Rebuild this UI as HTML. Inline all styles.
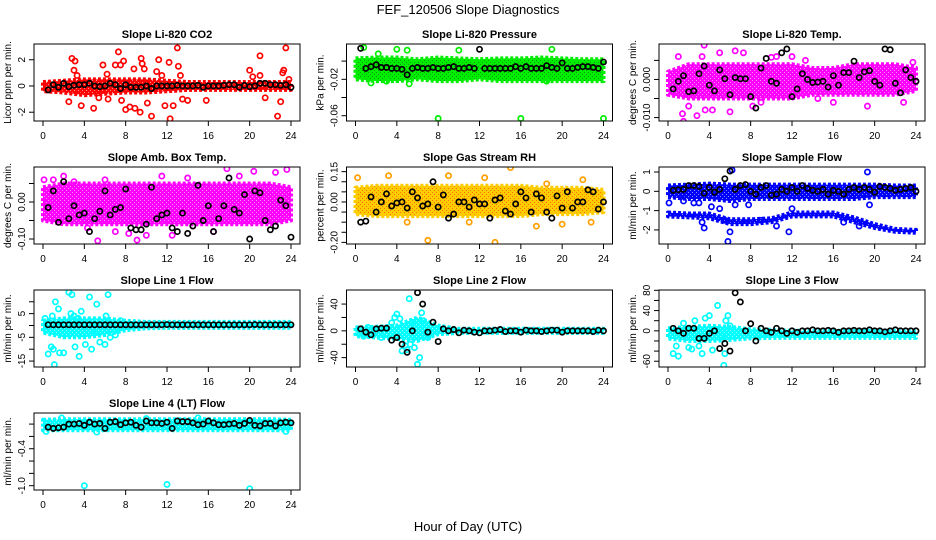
<!DOCTYPE html>
<html><head><meta charset="utf-8"><style>
html,body{margin:0;padding:0;background:#fff;}
svg{display:block;font-family:"Liberation Sans",sans-serif;}
</style></head><body>
<svg id="chart" width="936" height="540" viewBox="0 0 936 540">
<defs id="defs"></defs>
<text x="468" y="14" text-anchor="middle" font-size="13">FEF_120506  Slope Diagnostics</text>
<text x="468" y="531" text-anchor="middle" font-size="13">Hour of Day (UTC)</text>
</svg>
<script>
// ---- data (hours 0..24) ----
const bandHours = [0,2,4,6,8,10,12,14,16,18,20,22,24];
const xTicks = [0,4,8,12,16,20,24];

const co2BandLo = [-0.4,-0.5,-0.7,-0.6,-0.5,-0.5,-0.4,-0.3,-0.3,-0.3,-0.3,-0.3,-0.3];
const co2BandHi = [0.3,0.4,0.5,0.5,0.5,0.5,0.4,0.3,0.3,0.3,0.3,0.3,0.3];
const co2Pts = [[2.8,2.1],[3,1.2],[3.1,1.9],[3.3,0.8],[2.5,-1.2],[3.7,-1.5],[4.9,-1.7],[5.4,-0.9],[5.8,1.6],[6.2,0.9],[6.3,-1.0],[7,1.6],[7.3,2.6],[7.5,1.6],[7.8,1.9],[7.6,-1.1],[8,-1.8],[8.4,-1.6],[8.8,1.3],[8.9,-1.7],[9.5,2.1],[9.6,1.7],[9.8,1.3],[9.4,-2.0],[10.1,-1.3],[10.5,-2.3],[11,1.1],[11.2,2.0],[11.5,0.8],[11.8,-1.5],[12.2,1.8],[12.3,-2.5],[12.6,-1.5],[13,2.9],[13.1,1.5],[13.3,0.8],[13.5,-1.0],[14,-1.1],[15.8,-1.1],[20,1.2],[20.3,0.7],[21,2.3],[21.5,-0.9],[21,0.8],[22.7,-2.3],[23,-1.2],[23.2,1.0],[23.5,2.9],[23.3,1.2],[23.8,0.5]];
const co2Black = [-0.3,0.1,-0.1,0.2,-0.05,0.05,0.1,0.1,0.2,0,-0.05,0,0.2,0.1,-0.2,0.1,-0.1,-0.1,-0.1,0,-0.2,0,0,0,0,0.05,0,0,0,0.05,-0.1,0,0,0,0.05,0.1,0.1,-0.1,0.05,-0.05,0,0.2,0.2,0.1,0.1,0.05,0.1,-0.1];

const presBandLo = [-0.02,-0.022,-0.022,-0.02,-0.022,-0.022,-0.02,-0.022,-0.022,-0.022,-0.022,-0.022,-0.022];
const presBandHi = [0.003,0.004,0.004,0.002,0.004,0.003,0.002,0.003,0.003,0.004,0.003,0.002,0.002];
const presPts = [[8,-0.063],[16,-0.063],[24,-0.063],[5,0.012],[4,0.013],[0.8,0.015],[1.5,-0.024],[5.2,-0.025],[3,-0.022],[19,0.013],[10,0.012],[2.2,0.008],[18.5,-0.022]];
const presBlack = [0.014,-0.008,-0.006,-0.004,-0.007,-0.007,-0.008,-0.008,-0.009,-0.015,-0.008,-0.007,-0.008,-0.008,-0.007,-0.008,-0.008,-0.007,-0.006,-0.008,-0.008,-0.007,-0.008,0.013,-0.008,-0.008,-0.008,-0.008,-0.008,-0.008,-0.006,-0.008,-0.006,-0.008,-0.008,-0.008,-0.005,-0.007,-0.008,-0.002,-0.008,-0.008,-0.007,-0.006,-0.006,-0.007,-0.008,-0.001];

const tempBandLo = [-0.004,-0.005,-0.005,-0.005,-0.005,-0.005,-0.005,-0.004,-0.004,-0.004,-0.004,-0.004,-0.003];
const tempBandHi = [0.002,0.004,0.004,0.004,0.004,0.004,0.004,0.003,0.003,0.004,0.004,0.004,0.003];
const tempPts = [[1.5,-0.011],[1.4,-0.009],[2,-0.007],[2.8,-0.0095],[3.5,0.009],[3.6,-0.008],[4.3,-0.008],[6,-0.0085],[6.5,0.0075],[7.3,0.007],[8.2,-0.007],[10.5,0.006],[10,0.0058],[13.3,0.005],[19.3,-0.007],[22.8,-0.006],[23.7,0.0045],[3.3,0.006],[12,0.006],[16,-0.006],[1,0.006],[5,0.007],[9,-0.006],[14.5,-0.005]];
const tempBlack = [-0.0025,-0.0005,0.001,-0.0032,-0.003,0.0015,0.0035,-0.0015,-0.003,0.0025,0.0002,-0.004,0.0005,0.0002,0.0002,-0.0045,-0.0075,0.003,0.0055,-0.0005,-0.001,0.007,0.008,-0.0045,-0.0025,0.0015,0,-0.0008,-0.0007,-0.0005,-0.002,0.001,-0.0015,0.0018,0.0018,0.0048,0.0005,0.002,0.0023,-0.0005,-0.0015,0.008,0.0078,-0.001,-0.0035,0.0025,0.0005,-0.0005];

const ambBandLo = [-0.05,-0.06,-0.06,-0.06,-0.06,-0.06,-0.06,-0.06,-0.06,-0.06,-0.06,-0.06,-0.05];
const ambBandHi = [0.04,0.05,0.05,0.05,0.05,0.05,0.05,0.05,0.05,0.05,0.05,0.05,0.04];
const ambPts = [[5.3,-0.105],[9.1,-0.103],[17.8,0.09],[23.6,0.088],[20.4,0.083],[22.5,0.08],[0.1,0.06],[1,0.06],[4.3,-0.07],[16.5,-0.08],[12.5,-0.09],[10,-0.09],[7,-0.08],[2,0.07],[3,0.055],[6,0.06],[11.5,0.07],[14,0.065],[19,0.07],[8.3,-0.085]];
const ambBlack = [-0.015,0.03,-0.055,0.055,-0.045,-0.01,-0.035,-0.03,-0.08,-0.045,-0.025,0.03,-0.035,-0.02,-0.015,0.035,-0.07,-0.075,-0.075,-0.06,0.04,-0.045,-0.035,-0.03,-0.07,-0.08,-0.03,-0.085,-0.065,0.045,-0.05,-0.01,-0.08,-0.045,-0.01,0.065,-0.02,-0.03,0.02,-0.1,0.03,0.025,-0.05,-0.075,-0.065,0.005,-0.01,-0.095];

const rhBandLo = [-0.06,-0.07,-0.07,-0.07,-0.07,-0.07,-0.07,-0.07,-0.07,-0.06,-0.06,-0.06,-0.05];
const rhBandHi = [0.07,0.08,0.08,0.08,0.08,0.08,0.08,0.08,0.08,0.07,0.07,0.07,0.06];
const rhPts = [[0.2,0.12],[3.2,0.13],[7,-0.19],[13.5,-0.2],[15,0.17],[17.5,-0.12],[18.5,0.09],[22.8,-0.1],[11,-0.1],[9,0.13],[5,-0.1],[20,-0.11],[12.5,0.12],[22,0.11]];
const rhBlack = [-0.1,-0.095,0.025,-0.05,0,0.04,-0.02,-0.005,0,-0.03,0.05,0.02,-0.02,-0.01,0.1,-0.025,0.035,-0.08,-0.06,0.0,0.0,-0.025,0.01,-0.01,-0.01,-0.08,0.01,0.02,-0.045,-0.06,-0.01,0.05,0.02,-0.05,0.04,0.02,-0.05,-0.08,0.03,-0.03,0.05,-0.03,0.0,0.0,0.06,0.05,-0.035,0.0];

const flowBandLo = [-0.3,-0.4,-0.4,-0.5,-0.4,-0.4,-0.4,-0.4,-0.4,-0.4,-0.3,-0.3,-0.3];
const flowBandHi = [0.3,0.35,0.4,0.35,0.35,0.35,0.35,0.35,0.35,0.35,0.35,0.3,0.3];
const flowLowLo = [-1.3,-1.35,-1.4,-1.7,-1.7,-1.6,-1.3,-1.3,-1.3,-1.6,-1.9,-2.1,-2.15];
const flowLowHi = [-1.1,-1.15,-1.15,-1.45,-1.45,-1.4,-1.1,-1.1,-1.1,-1.35,-1.7,-1.95,-2.0];
const flowPts = [[5.8,-2.6],[6,-2.1],[6.2,1.1],[19.3,1],[3.5,-1.9],[11.7,-2.1],[2.5,-0.6],[3,-0.6],[0.1,-0.6],[5.5,-1.5],[4.2,-0.8],[5,-0.9],[6.5,-0.7],[1.5,-0.5],[7.8,-0.7],[19.5,-0.7],[12,-0.9],[3.3,-1.6],[9,-1.5],[10.5,-1.8],[17,-1.6],[18.5,-1.8]];
const flowBlack = [0.05,0.08,0.1,0.3,0.3,0.25,-0.1,0.2,-0.05,0.1,0.65,1.05,0.1,0.3,0.35,0.0,-0.15,0.2,0.3,-0.2,-0.15,0.1,0.0,0.2,0.0,0.3,0.15,0.05,0.0,0.1,-0.15,0.05,0.0,-0.15,0.1,0.2,0.1,0.2,0.1,-0.05,0.25,0.2,0.15,0.05,0.1,0.15,0.2,0.0];

const l1BandLo = [-3,-5,-5,-4,-2,-1.2,-1,-1,-1,-1,-1,-1,-1];
const l1BandHi = [2,3,3,3,2,1.5,1.5,1.5,1.5,1.5,1.5,1.5,1.5];
const l1Pts = [[0.2,3],[0.5,-12],[0.8,-9],[1,-10],[1.2,10],[1.1,-16.5],[0.9,4],[1.5,7],[1.6,-11.5],[2,-11.5],[2.5,14],[2.8,13],[3.1,-9],[3.5,-13],[3.7,6],[4.5,12],[4.1,-8],[4.7,-10],[5.2,9],[5.5,-7],[5,-3],[6,-8],[6.3,13],[6.1,4],[6.5,-5],[2.7,5],[3,4],[3.4,3],[7,-4],[7.5,2]];
const l1Black = [0.3,0.3,0.3,0.3,0.3,0.3,0.3,0.3,0.3,0.3,0.3,0.3,0.3,0.3,0.3,0.3,0.3,0.3,0.3,0.3,0.3,0.3,0.3,0.4,0.3,0.3,0.3,0.3,0.3,0.3,0.3,0.3,0.3,0.3,0.3,0.3,0.3,0.3,0.3,0.3,0.4,0.3,0.3,0.3,0.3,0.3,0.3,0.3];

const l2BandLo = [-8,-10,-12,-15,-5,-3,-3,-3,-3,-3,-3,-3,-3];
const l2BandHi = [5,6,8,20,8,3,3,3,3,3,3,3,3];
const l2Pts = [[0.8,-8],[1.2,5],[2.5,-10],[3.5,12],[3.8,20],[4,25],[4.3,18],[4.5,-30],[5,-28],[4.8,-22],[5.2,48],[5.3,-20],[5.7,-25],[6,-50],[6.2,-40],[6.4,27],[6.6,15],[5.5,13],[7,-10]];
const l2Black = [3,-2,-6,3,4,4,-14,-10,-20,-32,0,57,40,-2,13,-16,3,0,2,-3,1,0,-2,-3,0,0,1,2,-1,0,0,-2,1,0,0,-1,0,1,1,-2,0,0,0,0,0,-1,1,0];

const l3BandLo = [-15,-20,-20,-18,-15,-14,-14,-14,-14,-14,-14,-14,-14];
const l3BandHi = [5,8,10,8,3,2,0,0,0,0,0,0,0];
const l3Pts = [[0.5,-45],[1,-50],[0.8,-30],[1.5,15],[2,-33],[2.3,-36],[2.6,20],[3,-30],[3.3,-45],[3.6,25],[4,30],[4.3,-38],[4.8,50],[5.2,-10],[5.5,-45],[5.6,20],[5.8,30],[5.4,-68],[6,10]];
const l3Black = [5,0,-5,5,5,-15,-15,-5,0,-35,-25,-40,75,57,0,14,-20,5,0,-3,5,0,-5,0,-3,0,0,2,0,0,1,0,-3,0,0,1,0,0,2,0,0,-2,0,2,0,0,0,0];

const l4BandLo = [-0.1,-0.1,-0.1,-0.1,-0.1,-0.1,-0.1,-0.1,-0.1,-0.1,-0.1,-0.1,-0.1];
const l4BandHi = [0.07,0.08,0.08,0.08,0.08,0.08,0.08,0.08,0.08,0.08,0.08,0.08,0.07];
const l4Pts = [[4,-1.0],[12,-0.98],[20,-1.05],[0.3,-0.12],[5.2,-0.13],[23.5,-0.12],[1.8,0.1],[10,0.09],[15,0.1]];
const l4Black = [-0.05,-0.07,-0.06,-0.05,0,0,0.01,-0.02,0.03,0,0.01,-0.07,0.03,0.04,-0.01,0.02,0.03,-0.02,-0.05,0.05,0.02,0.02,0.01,0.03,-0.07,0.05,0.04,0.04,0.02,-0.01,0.0,0.05,0.02,-0.01,-0.01,0,0.01,-0.02,0.01,0.06,-0.02,-0.03,0.01,0.01,-0.03,0.02,0.03,0.02];

const p1Ticks=[-2,0,2], p1Labels=["-2","0","2"];
const p2Ticks=[-0.06,-0.04,-0.02,0], p2Labels=["-0.06","","-0.02",""];
const p3Ticks=[-0.01,-0.005,0,0.005], p3Labels=["-0.010","","0.000",""];
const p4Ticks=[-0.1,-0.05,0,0.05], p4Labels=["-0.10","","0.00",""];
const p5Ticks=[-0.2,-0.15,-0.1,-0.05,0,0.05,0.1,0.15], p5Labels=["-0.20","","","","0.00","","","0.15"];
const p6Ticks=[-2,-1,0,1], p6Labels=["-2","-1","0","1"];
const p7Ticks=[-15,-10,-5,0,5,10], p7Labels=["-15","","-5","","5",""];
const p8Ticks=[-40,-20,0,20,40], p8Labels=["-40","","0","","40"];
const p9Ticks=[-60,-40,-20,0,20,40,60,80], p9Labels=["-60","","","0","","40","","80"];
const p10Ticks=[-1,-0.8,-0.6,-0.4,-0.2,0], p10Labels=["-1.0","","","-0.4","",""];

// ---- layout / style ----
const panels = [
 {name:"co2",title:"Slope Li-820 CO2",ylab:"Licor ppm per min.",col:0,row:0,dom:[-2.67,3.2],color:"#ff0000",dot:"#ffffff",lo:co2BandLo,hi:co2BandHi,pts:co2Pts,blk:co2Black,ticks:p1Ticks,labels:p1Labels},
 {name:"pressure",title:"Slope Li-820 Pressure",ylab:"kPa per min.",col:1,row:0,dom:[-0.0658,0.0188],color:"#00ee00",dot:"#115511",lo:presBandLo,hi:presBandHi,pts:presPts,blk:presBlack,ticks:p2Ticks,labels:p2Labels},
 {name:"li820-temp",title:"Slope Li-820 Temp.",ylab:"degrees C per min.",col:2,row:0,dom:[-0.0109,0.0093],color:"#ff00ff",dot:"#ffffff",lo:tempBandLo,hi:tempBandHi,pts:tempPts,blk:tempBlack,ticks:p3Ticks,labels:p3Labels},
 {name:"amb-box-temp",title:"Slope Amb. Box Temp.",ylab:"degrees C per min.",col:0,row:1,dom:[-0.1135,0.0946],color:"#ff00ff",dot:"#ffffff",lo:ambBandLo,hi:ambBandHi,pts:ambPts,blk:ambBlack,ticks:p4Ticks,labels:p4Labels},
 {name:"gas-stream-rh",title:"Slope Gas Stream RH",ylab:"percent per min.",col:1,row:1,dom:[-0.208,0.173],color:"#ffcc00",dot:"#ff2200",ptColor:"#ffa000",lo:rhBandLo,hi:rhBandHi,pts:rhPts,blk:rhBlack,ticks:p5Ticks,labels:p5Labels},
 {name:"sample-flow",title:"Slope Sample Flow",ylab:"ml/min per min.",col:2,row:1,dom:[-2.73,1.26],color:"#0000ff",dot:"#ffffff",lo:flowBandLo,hi:flowBandHi,lo2:flowLowLo,hi2:flowLowHi,pts:flowPts,blk:flowBlack,ticks:p6Ticks,labels:p6Labels},
 {name:"line1-flow",title:"Slope Line 1 Flow",ylab:"ml/min per min.",col:0,row:2,dom:[-17.5,14.96],color:"#00ffff",dot:"#ffffff",lo:l1BandLo,hi:l1BandHi,pts:l1Pts,blk:l1Black,ticks:p7Ticks,labels:p7Labels},
 {name:"line2-flow",title:"Slope Line 2 Flow",ylab:"ml/min per min.",col:1,row:2,dom:[-54,61],color:"#00ffff",dot:"#ffffff",lo:l2BandLo,hi:l2BandHi,pts:l2Pts,blk:l2Black,ticks:p8Ticks,labels:p8Labels},
 {name:"line3-flow",title:"Slope Line 3 Flow",ylab:"ml/min per min.",col:2,row:2,dom:[-71.4,80.6],color:"#00ffff",dot:"#ffffff",lo:l3BandLo,hi:l3BandHi,pts:l3Pts,blk:l3Black,ticks:p9Ticks,labels:p9Labels},
 {name:"line4-flow",title:"Slope Line 4 (LT) Flow",ylab:"ml/min per min.",col:0,row:3,dom:[-1.07,0.18],color:"#00ffff",dot:"#ffffff",lo:l4BandLo,hi:l4BandHi,pts:l4Pts,blk:l4Black,ticks:p10Ticks,labels:p10Labels}
];
const NS="http://www.w3.org/2000/svg";
const svg=document.getElementById('chart');
const defs=document.getElementById('defs');
function mk(tag,attrs,parent){const e=document.createElementNS(NS,tag);for(const k in attrs)e.setAttribute(k,attrs[k]);parent.appendChild(e);return e;}

panels.forEach(p=>{
 const bx=34+p.col*312.5, by=44+p.row*123, bw=266, bh=77;
 const xs=h=>bx+9+h*(248/24);
 const ys=v=>by+bh-(v-p.dom[0])/(p.dom[1]-p.dom[0])*bh;
 const pat=mk('pattern',{id:'pat'+p.name,width:4,height:4,patternUnits:'userSpaceOnUse'},defs);
 mk('rect',{width:4,height:4,fill:p.color},pat);
 mk('rect',{x:0,y:0,width:1,height:1,fill:p.dot,opacity:0.55},pat);
 mk('rect',{x:2,y:2,width:1,height:1,fill:p.dot,opacity:0.55},pat);
 const g=mk('g',{},svg);
 
 
 const t=mk('text',{x:bx+bw/2,y:by-6,'text-anchor':'middle','font-size':11,'font-weight':'bold'},g);
 t.textContent=p.title;
 
 
 const cg=mk('g',{},g);
 
 
 const clip=mk('clipPath',{id:'c'+p.name},g);
 mk('rect',{x:bx,y:by,width:bw,height:bh},clip);
 cg.setAttribute('clip-path','url(#c'+p.name+')');
 function band(lo,hi,nm){
  let d='';
  bandHours.forEach((h,i)=>{d+=(i?'L':'M')+xs(h).toFixed(1)+','+ys(hi[i]).toFixed(1);});
  for(let i=bandHours.length-1;i>=0;i--)d+='L'+xs(bandHours[i]).toFixed(1)+','+ys(lo[i]).toFixed(1);
  const b=mk('path',{d:d+'Z',fill:'url(#pat'+p.name+')',stroke:p.color,'stroke-width':4,'stroke-linejoin':'round','stroke-dasharray':'3 2'},cg);
  
  
 }
 band(p.lo,p.hi,p.name+'-point-cloud');
 if(p.lo2)band(p.lo2,p.hi2,p.name+'-low-point-cloud');
 const pc=p.ptColor||p.color;
 p.pts.forEach(pt=>{
  const c=mk('circle',{cx:xs(pt[0]),cy:ys(pt[1]),r:2.6,fill:'none',stroke:pc,'stroke-width':1.7},cg);
  
  
 });
 p.blk.forEach((v,i)=>{
  const c=mk('circle',{cx:xs(0.5*(i+1)),cy:ys(v),r:2.6,fill:'none',stroke:'#000','stroke-width':1.7},cg);
  
  
 });
 const box=mk('rect',{x:bx,y:by,width:bw,height:bh,fill:'none',stroke:'#000','stroke-width':1},g);
 
 
 const xa=mk('g',{},g);
 
 
 mk('line',{x1:xs(0),x2:xs(24),y1:by+bh,y2:by+bh,stroke:'#000'},xa);
 xTicks.forEach(h=>{
  mk('line',{x1:xs(h),x2:xs(h),y1:by+bh,y2:by+bh+5,stroke:'#000'},xa);
  const tl=mk('text',{x:xs(h),y:by+bh+18,'text-anchor':'middle','font-size':10},xa);
  tl.textContent=h;
  
  
 });
 const ya=mk('g',{},g);
 
 
 mk('line',{x1:bx,x2:bx,y1:ys(p.ticks[0]),y2:ys(p.ticks[p.ticks.length-1]),stroke:'#000'},ya);
 p.ticks.forEach((v,i)=>{
  const y=ys(v);
  mk('line',{x1:bx-5,x2:bx,y1:y,y2:y,stroke:'#000'},ya);
  if(p.labels[i]){
   const tl=mk('text',{x:bx-9,y:y,'text-anchor':'middle','font-size':10,transform:'rotate(-90 '+(bx-9)+' '+y+')'},ya);
   tl.textContent=p.labels[i];
   
   
  }
 });
 const yl=mk('text',{x:bx-23,y:by+bh/2,'text-anchor':'middle','font-size':10,transform:'rotate(-90 '+(bx-23)+' '+(by+bh/2)+')'},g);
 yl.textContent=p.ylab;
 
 
});
</script>
</body></html>
